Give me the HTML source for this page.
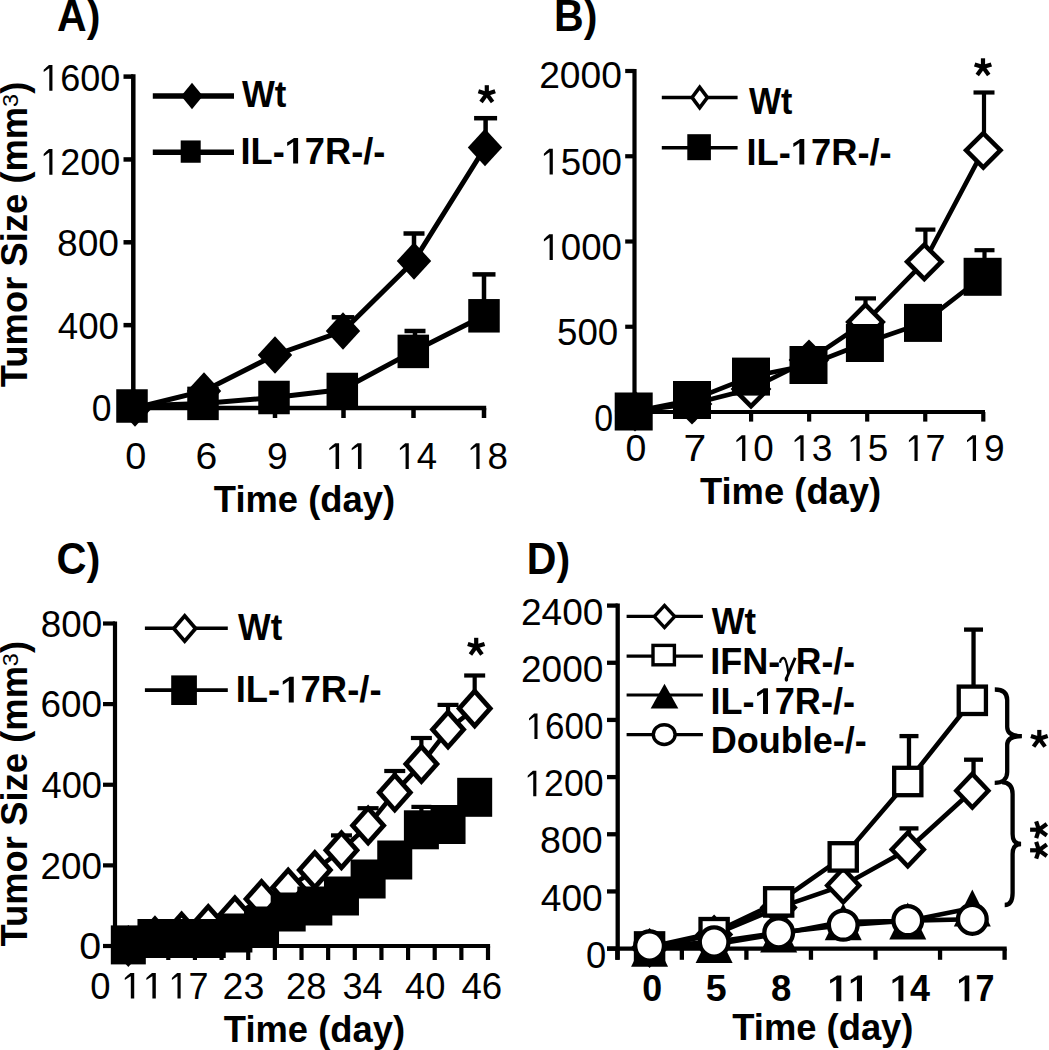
<!DOCTYPE html>
<html><head><meta charset="utf-8"><style>
html,body{margin:0;padding:0;background:#fff;width:1049px;height:1050px;overflow:hidden}
svg{display:block}
text{font-family:"Liberation Sans",sans-serif;fill:#000;stroke:none}
</style></head><body>
<svg width="1049" height="1050" viewBox="0 0 1049 1050" stroke="#000" stroke-linecap="butt">
<rect x="0" y="0" width="1049" height="1050" fill="#fff" stroke="none"/>
<text transform="translate(57.07,30.50) scale(0.9323,1)" font-size="44" font-weight="bold">A)</text>
<line x1="133.30" y1="74.35" x2="133.30" y2="410.25" stroke-width="4.5"/>
<line x1="123.50" y1="408.00" x2="133.30" y2="408.00" stroke-width="4.5"/>
<line x1="123.50" y1="325.15" x2="133.30" y2="325.15" stroke-width="4.5"/>
<line x1="123.50" y1="242.30" x2="133.30" y2="242.30" stroke-width="4.5"/>
<line x1="123.50" y1="159.45" x2="133.30" y2="159.45" stroke-width="4.5"/>
<line x1="123.50" y1="76.60" x2="133.30" y2="76.60" stroke-width="4.5"/>
<g transform="translate(40.24,90.70) scale(0.9604,1)">
<path transform="translate(0.00,0) scale(0.03750)" d="M339,0 L339,-688 L240,-688 C210,-660 150,-610 96,-556 L96,-497 C150,-530 210,-570 251,-598 L251,0 Z" fill="#000" stroke="none"/>
<text x="20.86" y="0" font-size="37.5" font-weight="normal">600</text>
</g>
<g transform="translate(40.24,174.80) scale(0.9604,1)">
<path transform="translate(0.00,0) scale(0.03750)" d="M339,0 L339,-688 L240,-688 C210,-660 150,-610 96,-556 L96,-497 C150,-530 210,-570 251,-598 L251,0 Z" fill="#000" stroke="none"/>
<text x="20.86" y="0" font-size="37.5" font-weight="normal">200</text>
</g>
<text transform="translate(57.03,256.10) scale(0.9907,1)" font-size="37.5" font-weight="normal">800</text>
<text transform="translate(57.78,338.90) scale(0.9783,1)" font-size="37.5" font-weight="normal">400</text>
<text transform="translate(91.68,421.00) scale(0.9488,1)" font-size="37.5" font-weight="normal">0</text>
<line x1="133.30" y1="408.00" x2="486.20" y2="408.00" stroke-width="4.5"/>
<line x1="205.00" y1="408.00" x2="205.00" y2="418.00" stroke-width="4.5"/>
<line x1="275.00" y1="408.00" x2="275.00" y2="418.00" stroke-width="4.5"/>
<line x1="343.50" y1="408.00" x2="343.50" y2="418.00" stroke-width="4.5"/>
<line x1="413.50" y1="408.00" x2="413.50" y2="418.00" stroke-width="4.5"/>
<line x1="484.00" y1="408.00" x2="484.00" y2="418.00" stroke-width="4.5"/>
<line x1="133.30" y1="408.00" x2="133.30" y2="418.00" stroke-width="4.5"/>
<text transform="translate(125.18,469.00) scale(1.0105,1)" font-size="37.5" font-weight="normal">0</text>
<text transform="translate(195.54,469.00) scale(1.0435,1)" font-size="37.5" font-weight="normal">6</text>
<text transform="translate(266.93,469.00) scale(0.9921,1)" font-size="37.5" font-weight="normal">9</text>
<g transform="translate(325.43,469.00) scale(1.0745,1)">
<path transform="translate(0.00,0) scale(0.03750)" d="M339,0 L339,-688 L240,-688 C210,-660 150,-610 96,-556 L96,-497 C150,-530 210,-570 251,-598 L251,0 Z" fill="#000" stroke="none"/>
<path transform="translate(20.86,0) scale(0.03750)" d="M339,0 L339,-688 L240,-688 C210,-660 150,-610 96,-556 L96,-497 C150,-530 210,-570 251,-598 L251,0 Z" fill="#000" stroke="none"/>
</g>
<g transform="translate(396.39,469.00) scale(0.9745,1)">
<path transform="translate(0.00,0) scale(0.03750)" d="M339,0 L339,-688 L240,-688 C210,-660 150,-610 96,-556 L96,-497 C150,-530 210,-570 251,-598 L251,0 Z" fill="#000" stroke="none"/>
<text x="20.86" y="0" font-size="37.5" font-weight="normal">4</text>
</g>
<g transform="translate(467.07,469.00) scale(0.9817,1)">
<path transform="translate(0.00,0) scale(0.03750)" d="M339,0 L339,-688 L240,-688 C210,-660 150,-610 96,-556 L96,-497 C150,-530 210,-570 251,-598 L251,0 Z" fill="#000" stroke="none"/>
<text x="20.86" y="0" font-size="37.5" font-weight="normal">8</text>
</g>
<text transform="translate(213.84,512.00) scale(0.9749,1)" font-size="37.3" font-weight="bold">Time (day)</text>
<g transform="translate(26.70,386.80) rotate(-90)">
<text transform="translate(-0.36,0) scale(0.9975,1)" font-size="36.5" font-weight="bold">Tumor Size (mm</text>
<text transform="translate(279.76,-9.0) scale(1.0638,1)" font-size="22">3</text>
<text x="293.02" y="0" font-size="36.5" font-weight="bold">)</text>
</g>
<line x1="152.80" y1="96.00" x2="234.00" y2="96.00" stroke-width="5.6"/>
<polygon points="181.20,96.00 192.00,82.80 202.80,96.00 192.00,109.20" fill="#000" stroke="none"/>
<line x1="152.80" y1="152.20" x2="234.00" y2="152.20" stroke-width="5.6"/>
<rect x="180.70" y="140.45" width="20.00" height="22.30" fill="#000" stroke="none"/>
<text transform="translate(242.00,107.00) scale(0.9325,1)" font-size="37.3" font-weight="bold">Wt</text>
<g transform="translate(240.45,163.60) scale(0.9712,1)">
<text x="0.00" y="0" font-size="37.3" font-weight="bold">IL-</text>
<path transform="translate(45.57,0) scale(0.03730)" d="M370,0 L370,-688 L255,-688 C215,-660 140,-610 68,-570 L68,-475 C130,-505 190,-540 233,-578 L233,0 Z" fill="#000" stroke="none"/>
<text x="66.31" y="0" font-size="37.3" font-weight="bold">7R-/-</text>
</g>
<line x1="343.00" y1="331.00" x2="343.00" y2="317.30" stroke-width="4.5"/>
<line x1="331.75" y1="317.30" x2="354.25" y2="317.30" stroke-width="4.5"/>
<line x1="414.00" y1="261.00" x2="414.00" y2="233.50" stroke-width="4.5"/>
<line x1="403.50" y1="233.50" x2="424.50" y2="233.50" stroke-width="4.5"/>
<line x1="485.60" y1="147.50" x2="485.60" y2="118.20" stroke-width="4.5"/>
<line x1="474.10" y1="118.20" x2="497.10" y2="118.20" stroke-width="4.5"/>
<line x1="415.00" y1="351.40" x2="415.00" y2="331.00" stroke-width="4.5"/>
<line x1="404.50" y1="331.00" x2="425.50" y2="331.00" stroke-width="4.5"/>
<line x1="484.00" y1="315.80" x2="484.00" y2="274.40" stroke-width="4.5"/>
<line x1="472.50" y1="274.40" x2="495.50" y2="274.40" stroke-width="4.5"/>
<polyline points="135.00,408.00 204.00,391.00 275.00,355.00 343.00,331.00 414.00,261.00 485.00,147.50" fill="none" stroke-width="5.0" stroke-linejoin="miter"/>
<polyline points="132.00,406.00 203.00,403.40 274.00,397.50 342.30,389.50 413.30,351.40 484.00,315.80" fill="none" stroke-width="5.0" stroke-linejoin="miter"/>
<polygon points="117.80,408.00 135.00,389.30 152.20,408.00 135.00,426.70" fill="#000" stroke="none"/>
<polygon points="186.80,391.00 204.00,372.30 221.20,391.00 204.00,409.70" fill="#000" stroke="none"/>
<polygon points="257.80,355.00 275.00,336.30 292.20,355.00 275.00,373.70" fill="#000" stroke="none"/>
<polygon points="325.80,331.00 343.00,312.30 360.20,331.00 343.00,349.70" fill="#000" stroke="none"/>
<polygon points="396.80,261.00 414.00,242.30 431.20,261.00 414.00,279.70" fill="#000" stroke="none"/>
<polygon points="467.80,147.50 485.00,128.80 502.20,147.50 485.00,166.20" fill="#000" stroke="none"/>
<rect x="116.25" y="389.25" width="31.50" height="33.50" fill="#000" stroke="none"/>
<rect x="187.25" y="386.65" width="31.50" height="33.50" fill="#000" stroke="none"/>
<rect x="258.25" y="380.75" width="31.50" height="33.50" fill="#000" stroke="none"/>
<rect x="326.55" y="372.75" width="31.50" height="33.50" fill="#000" stroke="none"/>
<rect x="397.55" y="334.65" width="31.50" height="33.50" fill="#000" stroke="none"/>
<rect x="468.25" y="299.05" width="31.50" height="33.50" fill="#000" stroke="none"/>
<line x1="486.80" y1="94.00" x2="486.80" y2="85.20" stroke-width="4.2"/>
<line x1="486.80" y1="94.00" x2="495.17" y2="91.28" stroke-width="4.2"/>
<line x1="486.80" y1="94.00" x2="478.43" y2="91.28" stroke-width="4.2"/>
<line x1="486.80" y1="94.00" x2="492.56" y2="101.93" stroke-width="4.2"/>
<line x1="486.80" y1="94.00" x2="481.04" y2="101.93" stroke-width="4.2"/>
<text transform="translate(554.03,30.50) scale(0.9333,1)" font-size="44" font-weight="bold">B)</text>
<line x1="634.50" y1="68.90" x2="634.50" y2="414.10" stroke-width="4.2"/>
<line x1="625.20" y1="412.00" x2="634.50" y2="412.00" stroke-width="4.2"/>
<line x1="625.20" y1="326.75" x2="634.50" y2="326.75" stroke-width="4.2"/>
<line x1="625.20" y1="241.50" x2="634.50" y2="241.50" stroke-width="4.2"/>
<line x1="625.20" y1="156.25" x2="634.50" y2="156.25" stroke-width="4.2"/>
<line x1="625.20" y1="71.00" x2="634.50" y2="71.00" stroke-width="4.2"/>
<text transform="translate(539.14,88.40) scale(0.9917,1)" font-size="37.5" font-weight="normal">2000</text>
<g transform="translate(540.38,174.60) scale(0.9783,1)">
<path transform="translate(0.00,0) scale(0.03750)" d="M339,0 L339,-688 L240,-688 C210,-660 150,-610 96,-556 L96,-497 C150,-530 210,-570 251,-598 L251,0 Z" fill="#000" stroke="none"/>
<text x="20.86" y="0" font-size="37.5" font-weight="normal">500</text>
</g>
<g transform="translate(540.38,260.10) scale(0.9783,1)">
<path transform="translate(0.00,0) scale(0.03750)" d="M339,0 L339,-688 L240,-688 C210,-660 150,-610 96,-556 L96,-497 C150,-530 210,-570 251,-598 L251,0 Z" fill="#000" stroke="none"/>
<text x="20.86" y="0" font-size="37.5" font-weight="normal">000</text>
</g>
<text transform="translate(557.03,344.60) scale(0.9792,1)" font-size="37.5" font-weight="normal">500</text>
<text transform="translate(594.24,430.50) scale(0.9039,1)" font-size="37.5" font-weight="normal">0</text>
<line x1="634.50" y1="412.00" x2="985.00" y2="412.00" stroke-width="4.2"/>
<line x1="635.00" y1="412.00" x2="635.00" y2="421.60" stroke-width="4.2"/>
<line x1="693.05" y1="412.00" x2="693.05" y2="421.60" stroke-width="4.2"/>
<line x1="751.10" y1="412.00" x2="751.10" y2="421.60" stroke-width="4.2"/>
<line x1="809.15" y1="412.00" x2="809.15" y2="421.60" stroke-width="4.2"/>
<line x1="867.20" y1="412.00" x2="867.20" y2="421.60" stroke-width="4.2"/>
<line x1="925.25" y1="412.00" x2="925.25" y2="421.60" stroke-width="4.2"/>
<line x1="983.30" y1="412.00" x2="983.30" y2="421.60" stroke-width="4.2"/>
<text transform="translate(625.40,461.00) scale(0.9993,1)" font-size="37.5" font-weight="normal">0</text>
<text transform="translate(683.56,461.00) scale(1.0901,1)" font-size="37.5" font-weight="normal">7</text>
<g transform="translate(732.87,461.00) scale(0.9817,1)">
<path transform="translate(0.00,0) scale(0.03750)" d="M339,0 L339,-688 L240,-688 C210,-660 150,-610 96,-556 L96,-497 C150,-530 210,-570 251,-598 L251,0 Z" fill="#000" stroke="none"/>
<text x="20.86" y="0" font-size="37.5" font-weight="normal">0</text>
</g>
<g transform="translate(791.04,461.00) scale(0.9895,1)">
<path transform="translate(0.00,0) scale(0.03750)" d="M339,0 L339,-688 L240,-688 C210,-660 150,-610 96,-556 L96,-497 C150,-530 210,-570 251,-598 L251,0 Z" fill="#000" stroke="none"/>
<text x="20.86" y="0" font-size="37.5" font-weight="normal">3</text>
</g>
<g transform="translate(847.17,461.00) scale(0.9817,1)">
<path transform="translate(0.00,0) scale(0.03750)" d="M339,0 L339,-688 L240,-688 C210,-660 150,-610 96,-556 L96,-497 C150,-530 210,-570 251,-598 L251,0 Z" fill="#000" stroke="none"/>
<text x="20.86" y="0" font-size="37.5" font-weight="normal">5</text>
</g>
<g transform="translate(905.45,461.00) scale(0.9587,1)">
<path transform="translate(0.00,0) scale(0.03750)" d="M339,0 L339,-688 L240,-688 C210,-660 150,-610 96,-556 L96,-497 C150,-530 210,-570 251,-598 L251,0 Z" fill="#000" stroke="none"/>
<text x="20.86" y="0" font-size="37.5" font-weight="normal">7</text>
</g>
<g transform="translate(963.44,461.00) scale(0.9895,1)">
<path transform="translate(0.00,0) scale(0.03750)" d="M339,0 L339,-688 L240,-688 C210,-660 150,-610 96,-556 L96,-497 C150,-530 210,-570 251,-598 L251,0 Z" fill="#000" stroke="none"/>
<text x="20.86" y="0" font-size="37.5" font-weight="normal">9</text>
</g>
<text transform="translate(699.94,504.40) scale(0.9755,1)" font-size="37.3" font-weight="bold">Time (day)</text>
<line x1="661.80" y1="97.50" x2="737.60" y2="97.50" stroke-width="3.6"/>
<polygon points="689.80,97.50 699.70,84.20 709.60,97.50 699.70,110.80" fill="#000" stroke="none"/>
<polygon points="694.29,97.50 699.70,90.23 705.11,97.50 699.70,104.77" fill="#fff" stroke="none"/>
<line x1="661.80" y1="147.80" x2="737.60" y2="147.80" stroke-width="3.6"/>
<rect x="687.30" y="134.20" width="23.60" height="26.00" fill="#000" stroke="none"/>
<text transform="translate(748.90,113.90) scale(0.9113,1)" font-size="37.3" font-weight="bold">Wt</text>
<g transform="translate(746.54,164.60) scale(0.9726,1)">
<text x="0.00" y="0" font-size="37.3" font-weight="bold">IL-</text>
<path transform="translate(45.57,0) scale(0.03730)" d="M370,0 L370,-688 L255,-688 C215,-660 140,-610 68,-570 L68,-475 C130,-505 190,-540 233,-578 L233,0 Z" fill="#000" stroke="none"/>
<text x="66.31" y="0" font-size="37.3" font-weight="bold">7R-/-</text>
</g>
<line x1="865.50" y1="322.00" x2="865.50" y2="298.40" stroke-width="4.2"/>
<line x1="855.00" y1="298.40" x2="876.00" y2="298.40" stroke-width="4.2"/>
<line x1="925.40" y1="261.80" x2="925.40" y2="229.60" stroke-width="4.2"/>
<line x1="915.40" y1="229.60" x2="935.40" y2="229.60" stroke-width="4.2"/>
<line x1="984.00" y1="150.30" x2="984.00" y2="92.50" stroke-width="4.2"/>
<line x1="973.50" y1="92.50" x2="994.50" y2="92.50" stroke-width="4.2"/>
<line x1="984.50" y1="276.80" x2="984.50" y2="250.20" stroke-width="4.2"/>
<line x1="974.50" y1="250.20" x2="994.50" y2="250.20" stroke-width="4.2"/>
<polyline points="635.00,411.00 692.00,404.00 751.00,389.00 809.00,360.00 865.50,322.00 924.30,261.80 983.30,150.30" fill="none" stroke-width="4.6" stroke-linejoin="miter"/>
<polygon points="614.60,411.00 635.00,390.60 655.40,411.00 635.00,431.40" fill="#000" stroke="none"/>
<polygon points="621.11,411.00 635.00,397.11 648.89,411.00 635.00,424.89" fill="#fff" stroke="none"/>
<polygon points="671.60,404.00 692.00,383.60 712.40,404.00 692.00,424.40" fill="#000" stroke="none"/>
<polygon points="678.11,404.00 692.00,390.11 705.89,404.00 692.00,417.89" fill="#fff" stroke="none"/>
<polygon points="730.60,389.00 751.00,368.60 771.40,389.00 751.00,409.40" fill="#000" stroke="none"/>
<polygon points="737.11,389.00 751.00,375.11 764.89,389.00 751.00,402.89" fill="#fff" stroke="none"/>
<polygon points="788.60,360.00 809.00,339.60 829.40,360.00 809.00,380.40" fill="#000" stroke="none"/>
<polygon points="795.11,360.00 809.00,346.11 822.89,360.00 809.00,373.89" fill="#fff" stroke="none"/>
<polygon points="845.10,322.00 865.50,301.60 885.90,322.00 865.50,342.40" fill="#000" stroke="none"/>
<polygon points="851.61,322.00 865.50,308.11 879.39,322.00 865.50,335.89" fill="#fff" stroke="none"/>
<polygon points="903.90,261.80 924.30,241.40 944.70,261.80 924.30,282.20" fill="#000" stroke="none"/>
<polygon points="910.41,261.80 924.30,247.91 938.19,261.80 924.30,275.69" fill="#fff" stroke="none"/>
<polygon points="962.90,150.30 983.30,129.90 1003.70,150.30 983.30,170.70" fill="#000" stroke="none"/>
<polygon points="969.41,150.30 983.30,136.41 997.19,150.30 983.30,164.19" fill="#fff" stroke="none"/>
<polyline points="633.70,411.50 692.00,400.00 751.00,376.60 808.50,365.00 864.90,343.00 923.00,322.90 982.60,276.80" fill="none" stroke-width="4.6" stroke-linejoin="miter"/>
<rect x="614.70" y="392.50" width="38.00" height="38.00" fill="#000" stroke="none"/>
<rect x="673.00" y="381.00" width="38.00" height="38.00" fill="#000" stroke="none"/>
<rect x="732.00" y="357.60" width="38.00" height="38.00" fill="#000" stroke="none"/>
<rect x="789.50" y="346.00" width="38.00" height="38.00" fill="#000" stroke="none"/>
<rect x="845.90" y="324.00" width="38.00" height="38.00" fill="#000" stroke="none"/>
<rect x="904.00" y="303.90" width="38.00" height="38.00" fill="#000" stroke="none"/>
<rect x="963.60" y="257.80" width="38.00" height="38.00" fill="#000" stroke="none"/>
<line x1="983.00" y1="67.10" x2="983.00" y2="58.30" stroke-width="4.2"/>
<line x1="983.00" y1="67.10" x2="991.37" y2="64.38" stroke-width="4.2"/>
<line x1="983.00" y1="67.10" x2="974.63" y2="64.38" stroke-width="4.2"/>
<line x1="983.00" y1="67.10" x2="988.76" y2="75.03" stroke-width="4.2"/>
<line x1="983.00" y1="67.10" x2="977.24" y2="75.03" stroke-width="4.2"/>
<text transform="translate(56.44,573.50) scale(0.9444,1)" font-size="44" font-weight="bold">C)</text>
<line x1="115.00" y1="621.40" x2="115.00" y2="948.10" stroke-width="4.2"/>
<line x1="103.00" y1="946.00" x2="115.00" y2="946.00" stroke-width="4.2"/>
<line x1="103.00" y1="865.38" x2="115.00" y2="865.38" stroke-width="4.2"/>
<line x1="103.00" y1="784.75" x2="115.00" y2="784.75" stroke-width="4.2"/>
<line x1="103.00" y1="704.12" x2="115.00" y2="704.12" stroke-width="4.2"/>
<line x1="103.00" y1="623.50" x2="115.00" y2="623.50" stroke-width="4.2"/>
<text transform="translate(40.75,636.70) scale(0.9938,1)" font-size="37" font-weight="normal">800</text>
<text transform="translate(40.56,717.30) scale(0.9970,1)" font-size="37" font-weight="normal">600</text>
<text transform="translate(41.49,798.00) scale(0.9814,1)" font-size="37" font-weight="normal">400</text>
<text transform="translate(40.56,878.60) scale(0.9970,1)" font-size="37" font-weight="normal">200</text>
<text transform="translate(79.23,959.00) scale(1.0640,1)" font-size="37" font-weight="normal">0</text>
<line x1="115.00" y1="946.00" x2="490.10" y2="946.00" stroke-width="4.2"/>
<line x1="115.00" y1="946.00" x2="115.00" y2="960.00" stroke-width="4.2"/>
<line x1="141.64" y1="946.00" x2="141.64" y2="960.00" stroke-width="4.2"/>
<line x1="168.29" y1="946.00" x2="168.29" y2="960.00" stroke-width="4.2"/>
<line x1="194.93" y1="946.00" x2="194.93" y2="960.00" stroke-width="4.2"/>
<line x1="221.57" y1="946.00" x2="221.57" y2="960.00" stroke-width="4.2"/>
<line x1="248.21" y1="946.00" x2="248.21" y2="960.00" stroke-width="4.2"/>
<line x1="274.86" y1="946.00" x2="274.86" y2="960.00" stroke-width="4.2"/>
<line x1="301.50" y1="946.00" x2="301.50" y2="960.00" stroke-width="4.2"/>
<line x1="328.14" y1="946.00" x2="328.14" y2="960.00" stroke-width="4.2"/>
<line x1="354.79" y1="946.00" x2="354.79" y2="960.00" stroke-width="4.2"/>
<line x1="381.43" y1="946.00" x2="381.43" y2="960.00" stroke-width="4.2"/>
<line x1="408.07" y1="946.00" x2="408.07" y2="960.00" stroke-width="4.2"/>
<line x1="434.71" y1="946.00" x2="434.71" y2="960.00" stroke-width="4.2"/>
<line x1="461.36" y1="946.00" x2="461.36" y2="960.00" stroke-width="4.2"/>
<line x1="488.00" y1="946.00" x2="488.00" y2="960.00" stroke-width="4.2"/>
<text transform="translate(90.24,998.50) scale(0.9844,1)" font-size="37" font-weight="normal">0</text>
<g transform="translate(121.08,998.50) scale(1.0484,1)">
<path transform="translate(0.00,0) scale(0.03700)" d="M339,0 L339,-688 L240,-688 C210,-660 150,-610 96,-556 L96,-497 C150,-530 210,-570 251,-598 L251,0 Z" fill="#000" stroke="none"/>
<path transform="translate(20.58,0) scale(0.03700)" d="M339,0 L339,-688 L240,-688 C210,-660 150,-610 96,-556 L96,-497 C150,-530 210,-570 251,-598 L251,0 Z" fill="#000" stroke="none"/>
</g>
<g transform="translate(168.45,998.50) scale(0.9717,1)">
<path transform="translate(0.00,0) scale(0.03700)" d="M339,0 L339,-688 L240,-688 C210,-660 150,-610 96,-556 L96,-497 C150,-530 210,-570 251,-598 L251,0 Z" fill="#000" stroke="none"/>
<text x="20.58" y="0" font-size="37" font-weight="normal">7</text>
</g>
<text transform="translate(222.52,998.50) scale(1.0145,1)" font-size="37" font-weight="normal">23</text>
<text transform="translate(286.08,998.50) scale(0.9830,1)" font-size="37" font-weight="normal">28</text>
<text transform="translate(342.56,998.50) scale(0.9745,1)" font-size="37" font-weight="normal">34</text>
<text transform="translate(405.09,998.50) scale(0.9828,1)" font-size="37" font-weight="normal">40</text>
<text transform="translate(461.48,998.50) scale(0.9901,1)" font-size="37" font-weight="normal">46</text>
<text transform="translate(223.84,1042.00) scale(0.9749,1)" font-size="37.3" font-weight="bold">Time (day)</text>
<g transform="translate(26.70,946.20) rotate(-90)">
<text transform="translate(-0.36,0) scale(0.9982,1)" font-size="36.5" font-weight="bold">Tumor Size (mm</text>
<text transform="translate(280.06,-9.0) scale(1.0638,1)" font-size="22">3</text>
<text x="293.22" y="0" font-size="36.5" font-weight="bold">)</text>
</g>
<line x1="144.90" y1="628.30" x2="227.80" y2="628.30" stroke-width="3.6"/>
<polygon points="171.30,628.50 184.70,613.00 198.10,628.50 184.70,644.00" fill="#000" stroke="none"/>
<polygon points="176.32,628.50 184.70,618.81 193.08,628.50 184.70,638.19" fill="#fff" stroke="none"/>
<line x1="144.90" y1="690.10" x2="227.80" y2="690.10" stroke-width="3.6"/>
<rect x="171.20" y="675.40" width="25.70" height="29.60" fill="#000" stroke="none"/>
<text transform="translate(238.10,639.90) scale(0.9283,1)" font-size="37.3" font-weight="bold">Wt</text>
<g transform="translate(235.73,702.40) scale(0.9774,1)">
<text x="0.00" y="0" font-size="37.3" font-weight="bold">IL-</text>
<path transform="translate(45.57,0) scale(0.03730)" d="M370,0 L370,-688 L255,-688 C215,-660 140,-610 68,-570 L68,-475 C130,-505 190,-540 233,-578 L233,0 Z" fill="#000" stroke="none"/>
<text x="66.31" y="0" font-size="37.3" font-weight="bold">7R-/-</text>
</g>
<line x1="341.46" y1="850.30" x2="341.46" y2="835.40" stroke-width="4.2"/>
<line x1="330.96" y1="835.40" x2="351.96" y2="835.40" stroke-width="4.2"/>
<line x1="368.11" y1="825.50" x2="368.11" y2="808.20" stroke-width="4.2"/>
<line x1="357.61" y1="808.20" x2="378.61" y2="808.20" stroke-width="4.2"/>
<line x1="394.75" y1="792.60" x2="394.75" y2="771.00" stroke-width="4.2"/>
<line x1="384.25" y1="771.00" x2="405.25" y2="771.00" stroke-width="4.2"/>
<line x1="421.39" y1="764.00" x2="421.39" y2="738.00" stroke-width="4.2"/>
<line x1="410.89" y1="738.00" x2="431.89" y2="738.00" stroke-width="4.2"/>
<line x1="448.04" y1="729.60" x2="448.04" y2="704.90" stroke-width="4.2"/>
<line x1="437.54" y1="704.90" x2="458.54" y2="704.90" stroke-width="4.2"/>
<line x1="474.68" y1="708.50" x2="474.68" y2="675.50" stroke-width="4.2"/>
<line x1="464.18" y1="675.50" x2="485.18" y2="675.50" stroke-width="4.2"/>
<line x1="421.39" y1="829.80" x2="421.39" y2="806.90" stroke-width="4.2"/>
<line x1="411.39" y1="806.90" x2="431.39" y2="806.90" stroke-width="4.2"/>
<polyline points="128.32,946.00 154.96,936.30 181.61,931.50 208.25,924.00 234.89,915.30 261.54,899.00 288.18,887.60 314.82,870.00 341.46,850.30 368.11,825.50 394.75,792.60 421.39,764.00 448.04,729.60 474.68,708.50" fill="none" stroke-width="4.6" stroke-linejoin="miter"/>
<polygon points="109.62,946.00 128.32,925.00 147.02,946.00 128.32,967.00" fill="#000" stroke="none"/>
<polygon points="116.05,946.00 128.32,932.22 140.59,946.00 128.32,959.78" fill="#fff" stroke="none"/>
<polygon points="136.26,936.30 154.96,915.30 173.66,936.30 154.96,957.30" fill="#000" stroke="none"/>
<polygon points="142.69,936.30 154.96,922.52 167.24,936.30 154.96,950.08" fill="#fff" stroke="none"/>
<polygon points="162.91,931.50 181.61,910.50 200.31,931.50 181.61,952.50" fill="#000" stroke="none"/>
<polygon points="169.33,931.50 181.61,917.72 193.88,931.50 181.61,945.28" fill="#fff" stroke="none"/>
<polygon points="189.55,924.00 208.25,903.00 226.95,924.00 208.25,945.00" fill="#000" stroke="none"/>
<polygon points="195.98,924.00 208.25,910.22 220.52,924.00 208.25,937.78" fill="#fff" stroke="none"/>
<polygon points="216.19,915.30 234.89,894.30 253.59,915.30 234.89,936.30" fill="#000" stroke="none"/>
<polygon points="222.62,915.30 234.89,901.52 247.17,915.30 234.89,929.08" fill="#fff" stroke="none"/>
<polygon points="242.84,899.00 261.54,878.00 280.24,899.00 261.54,920.00" fill="#000" stroke="none"/>
<polygon points="249.26,899.00 261.54,885.22 273.81,899.00 261.54,912.78" fill="#fff" stroke="none"/>
<polygon points="269.48,887.60 288.18,866.60 306.88,887.60 288.18,908.60" fill="#000" stroke="none"/>
<polygon points="275.91,887.60 288.18,873.82 300.45,887.60 288.18,901.38" fill="#fff" stroke="none"/>
<polygon points="296.12,870.00 314.82,849.00 333.52,870.00 314.82,891.00" fill="#000" stroke="none"/>
<polygon points="302.55,870.00 314.82,856.22 327.09,870.00 314.82,883.78" fill="#fff" stroke="none"/>
<polygon points="322.76,850.30 341.46,829.30 360.16,850.30 341.46,871.30" fill="#000" stroke="none"/>
<polygon points="329.19,850.30 341.46,836.52 353.74,850.30 341.46,864.08" fill="#fff" stroke="none"/>
<polygon points="349.41,825.50 368.11,804.50 386.81,825.50 368.11,846.50" fill="#000" stroke="none"/>
<polygon points="355.83,825.50 368.11,811.72 380.38,825.50 368.11,839.28" fill="#fff" stroke="none"/>
<polygon points="376.05,792.60 394.75,771.60 413.45,792.60 394.75,813.60" fill="#000" stroke="none"/>
<polygon points="382.48,792.60 394.75,778.82 407.02,792.60 394.75,806.38" fill="#fff" stroke="none"/>
<polygon points="402.69,764.00 421.39,743.00 440.09,764.00 421.39,785.00" fill="#000" stroke="none"/>
<polygon points="409.12,764.00 421.39,750.22 433.67,764.00 421.39,777.78" fill="#fff" stroke="none"/>
<polygon points="429.34,729.60 448.04,708.60 466.74,729.60 448.04,750.60" fill="#000" stroke="none"/>
<polygon points="435.76,729.60 448.04,715.82 460.31,729.60 448.04,743.38" fill="#fff" stroke="none"/>
<polygon points="455.98,708.50 474.68,687.50 493.38,708.50 474.68,729.50" fill="#000" stroke="none"/>
<polygon points="462.41,708.50 474.68,694.72 486.95,708.50 474.68,722.28" fill="#fff" stroke="none"/>
<polyline points="128.32,944.90 154.96,938.50 181.61,938.50 208.25,938.50 234.89,933.00 261.54,926.00 288.18,912.00 314.82,906.00 341.46,896.00 368.11,879.00 394.75,860.00 421.39,829.80 448.04,824.50 474.68,797.30" fill="none" stroke-width="4.6" stroke-linejoin="miter"/>
<rect x="110.82" y="925.40" width="35.00" height="39.00" fill="#000" stroke="none"/>
<rect x="137.46" y="919.00" width="35.00" height="39.00" fill="#000" stroke="none"/>
<rect x="164.11" y="919.00" width="35.00" height="39.00" fill="#000" stroke="none"/>
<rect x="190.75" y="919.00" width="35.00" height="39.00" fill="#000" stroke="none"/>
<rect x="217.39" y="913.50" width="35.00" height="39.00" fill="#000" stroke="none"/>
<rect x="244.04" y="906.50" width="35.00" height="39.00" fill="#000" stroke="none"/>
<rect x="270.68" y="892.50" width="35.00" height="39.00" fill="#000" stroke="none"/>
<rect x="297.32" y="886.50" width="35.00" height="39.00" fill="#000" stroke="none"/>
<rect x="323.96" y="876.50" width="35.00" height="39.00" fill="#000" stroke="none"/>
<rect x="350.61" y="859.50" width="35.00" height="39.00" fill="#000" stroke="none"/>
<rect x="377.25" y="840.50" width="35.00" height="39.00" fill="#000" stroke="none"/>
<rect x="403.89" y="810.30" width="35.00" height="39.00" fill="#000" stroke="none"/>
<rect x="430.54" y="805.00" width="35.00" height="39.00" fill="#000" stroke="none"/>
<rect x="457.18" y="777.80" width="35.00" height="39.00" fill="#000" stroke="none"/>
<line x1="476.20" y1="646.60" x2="476.20" y2="637.80" stroke-width="4.2"/>
<line x1="476.20" y1="646.60" x2="484.57" y2="643.88" stroke-width="4.2"/>
<line x1="476.20" y1="646.60" x2="467.83" y2="643.88" stroke-width="4.2"/>
<line x1="476.20" y1="646.60" x2="481.96" y2="654.53" stroke-width="4.2"/>
<line x1="476.20" y1="646.60" x2="470.44" y2="654.53" stroke-width="4.2"/>
<text transform="translate(526.83,573.80) scale(0.9333,1)" font-size="44" font-weight="bold">D)</text>
<line x1="617.70" y1="603.50" x2="617.70" y2="959.80" stroke-width="4.3"/>
<line x1="607.00" y1="948.60" x2="617.70" y2="948.60" stroke-width="4.3"/>
<line x1="607.00" y1="891.43" x2="617.70" y2="891.43" stroke-width="4.3"/>
<line x1="607.00" y1="834.27" x2="617.70" y2="834.27" stroke-width="4.3"/>
<line x1="607.00" y1="777.10" x2="617.70" y2="777.10" stroke-width="4.3"/>
<line x1="607.00" y1="719.93" x2="617.70" y2="719.93" stroke-width="4.3"/>
<line x1="607.00" y1="662.77" x2="617.70" y2="662.77" stroke-width="4.3"/>
<line x1="607.00" y1="605.60" x2="617.70" y2="605.60" stroke-width="4.3"/>
<text transform="translate(520.95,624.70) scale(1.0026,1)" font-size="37" font-weight="normal">2400</text>
<text transform="translate(520.95,681.90) scale(1.0026,1)" font-size="37" font-weight="normal">2000</text>
<g transform="translate(525.64,739.00) scale(0.9462,1)">
<path transform="translate(0.00,0) scale(0.03700)" d="M339,0 L339,-688 L240,-688 C210,-660 150,-610 96,-556 L96,-497 C150,-530 210,-570 251,-598 L251,0 Z" fill="#000" stroke="none"/>
<text x="20.58" y="0" font-size="37" font-weight="normal">600</text>
</g>
<g transform="translate(524.28,796.20) scale(0.9630,1)">
<path transform="translate(0.00,0) scale(0.03700)" d="M339,0 L339,-688 L240,-688 C210,-660 150,-610 96,-556 L96,-497 C150,-530 210,-570 251,-598 L251,0 Z" fill="#000" stroke="none"/>
<text x="20.58" y="0" font-size="37" font-weight="normal">200</text>
</g>
<text transform="translate(540.01,853.40) scale(1.0161,1)" font-size="37" font-weight="normal">800</text>
<text transform="translate(540.77,910.50) scale(1.0034,1)" font-size="37" font-weight="normal">400</text>
<text transform="translate(586.04,967.70) scale(0.9844,1)" font-size="37" font-weight="normal">0</text>
<line x1="607.00" y1="948.60" x2="1006.70" y2="948.60" stroke-width="4.3"/>
<line x1="617.30" y1="948.60" x2="617.30" y2="959.80" stroke-width="4.3"/>
<line x1="681.85" y1="948.60" x2="681.85" y2="959.80" stroke-width="4.3"/>
<line x1="746.40" y1="948.60" x2="746.40" y2="959.80" stroke-width="4.3"/>
<line x1="810.95" y1="948.60" x2="810.95" y2="959.80" stroke-width="4.3"/>
<line x1="875.50" y1="948.60" x2="875.50" y2="959.80" stroke-width="4.3"/>
<line x1="940.05" y1="948.60" x2="940.05" y2="959.80" stroke-width="4.3"/>
<line x1="1004.60" y1="948.60" x2="1004.60" y2="959.80" stroke-width="4.3"/>
<text transform="translate(642.17,1001.20) scale(0.9544,1)" font-size="37.5" font-weight="bold">0</text>
<text transform="translate(705.87,1001.20) scale(1.0027,1)" font-size="37.5" font-weight="bold">5</text>
<text transform="translate(771.10,1001.20) scale(0.9751,1)" font-size="37.5" font-weight="bold">8</text>
<g transform="translate(827.57,1001.20) scale(0.9913,1)">
<path transform="translate(0.00,0) scale(0.03750)" d="M370,0 L370,-688 L255,-688 C215,-660 140,-610 68,-570 L68,-475 C130,-505 190,-540 233,-578 L233,0 Z" fill="#000" stroke="none"/>
<path transform="translate(20.86,0) scale(0.03750)" d="M370,0 L370,-688 L255,-688 C215,-660 140,-610 68,-570 L68,-475 C130,-505 190,-540 233,-578 L233,0 Z" fill="#000" stroke="none"/>
</g>
<g transform="translate(890.06,1001.20) scale(0.9581,1)">
<path transform="translate(0.00,0) scale(0.03750)" d="M370,0 L370,-688 L255,-688 C215,-660 140,-610 68,-570 L68,-475 C130,-505 190,-540 233,-578 L233,0 Z" fill="#000" stroke="none"/>
<text x="20.86" y="0" font-size="37.5" font-weight="bold">4</text>
</g>
<g transform="translate(956.68,1001.20) scale(0.9083,1)">
<path transform="translate(0.00,0) scale(0.03750)" d="M370,0 L370,-688 L255,-688 C215,-660 140,-610 68,-570 L68,-475 C130,-505 190,-540 233,-578 L233,0 Z" fill="#000" stroke="none"/>
<text x="20.86" y="0" font-size="37.5" font-weight="bold">7</text>
</g>
<text transform="translate(732.24,1039.70) scale(0.9755,1)" font-size="37.3" font-weight="bold">Time (day)</text>
<line x1="626.60" y1="616.40" x2="702.90" y2="616.40" stroke-width="3.2"/>
<line x1="626.60" y1="656.10" x2="702.90" y2="656.10" stroke-width="3.2"/>
<line x1="626.60" y1="695.00" x2="702.90" y2="695.00" stroke-width="3.2"/>
<line x1="626.60" y1="734.60" x2="702.90" y2="734.60" stroke-width="3.2"/>
<polygon points="652.00,616.40 664.50,602.90 677.00,616.40 664.50,629.90" fill="#000" stroke="none"/>
<polygon points="656.63,616.40 664.50,607.90 672.37,616.40 664.50,624.90" fill="#fff" stroke="none"/>
<rect x="653.00" y="645.40" width="21.40" height="19.40" fill="#fff" stroke-width="3.4"/>
<polygon points="650.65,708.60 664.50,683.80 678.35,708.60" fill="#000" stroke="none"/>
<ellipse cx="664.20" cy="734.60" rx="10.90" ry="9.90" fill="#fff" stroke-width="3.4"/>
<text transform="translate(711.80,633.60) scale(0.9304,1)" font-size="37.3" font-weight="bold">Wt</text>
<text transform="translate(710.25,673.80) scale(0.9675,1)" font-size="37.3" font-weight="bold">IFN-</text>
<text transform="translate(795.79,673.80) scale(0.9525,1)" font-size="37.3" font-weight="bold">R-/-</text>
<path d="M779.9,662.8 C780.6,659.1 782.4,657.7 784,658.1 C786.2,658.9 787.2,665.5 788.4,673.0" fill="none" stroke-width="2.3"/>
<path d="M795.2,657.7 L786.6,678.0" fill="none" stroke-width="2.9"/>
<ellipse cx="786.4" cy="679.1" rx="1.8" ry="2.6" fill="#000" stroke="none"/>
<g transform="translate(710.45,714.00) scale(0.9691,1)">
<text x="0.00" y="0" font-size="37.3" font-weight="bold">IL-</text>
<path transform="translate(45.57,0) scale(0.03730)" d="M370,0 L370,-688 L255,-688 C215,-660 140,-610 68,-570 L68,-475 C130,-505 190,-540 233,-578 L233,0 Z" fill="#000" stroke="none"/>
<text x="66.31" y="0" font-size="37.3" font-weight="bold">7R-/-</text>
</g>
<text transform="translate(710.66,752.80) scale(0.9665,1)" font-size="37.3" font-weight="bold">Double-/-</text>
<line x1="908.98" y1="849.50" x2="908.98" y2="828.40" stroke-width="4.3"/>
<line x1="899.48" y1="828.40" x2="918.48" y2="828.40" stroke-width="4.3"/>
<line x1="973.53" y1="790.70" x2="973.53" y2="759.70" stroke-width="4.3"/>
<line x1="964.03" y1="759.70" x2="983.03" y2="759.70" stroke-width="4.3"/>
<polyline points="649.57,948.00 714.12,934.50 778.67,907.60 843.23,885.40 907.77,849.50 972.33,790.70" fill="none" stroke-width="4.6" stroke-linejoin="miter"/>
<polygon points="630.47,948.00 649.57,927.90 668.67,948.00 649.57,968.10" fill="#000" stroke="none"/>
<polygon points="636.68,948.00 649.57,934.43 662.47,948.00 649.57,961.57" fill="#fff" stroke="none"/>
<polygon points="695.02,934.50 714.12,914.40 733.23,934.50 714.12,954.60" fill="#000" stroke="none"/>
<polygon points="701.23,934.50 714.12,920.93 727.02,934.50 714.12,948.07" fill="#fff" stroke="none"/>
<polygon points="759.57,907.60 778.67,887.50 797.77,907.60 778.67,927.70" fill="#000" stroke="none"/>
<polygon points="765.78,907.60 778.67,894.03 791.57,907.60 778.67,921.17" fill="#fff" stroke="none"/>
<polygon points="824.12,885.40 843.23,865.30 862.33,885.40 843.23,905.50" fill="#000" stroke="none"/>
<polygon points="830.33,885.40 843.23,871.83 856.12,885.40 843.23,898.97" fill="#fff" stroke="none"/>
<polygon points="888.67,849.50 907.77,829.40 926.88,849.50 907.77,869.60" fill="#000" stroke="none"/>
<polygon points="894.88,849.50 907.77,835.93 920.67,849.50 907.77,863.07" fill="#fff" stroke="none"/>
<polygon points="953.23,790.70 972.33,770.60 991.43,790.70 972.33,810.80" fill="#000" stroke="none"/>
<polygon points="959.43,790.70 972.33,777.13 985.22,790.70 972.33,804.27" fill="#fff" stroke="none"/>
<line x1="908.98" y1="781.50" x2="908.98" y2="736.10" stroke-width="4.3"/>
<line x1="899.48" y1="736.10" x2="918.48" y2="736.10" stroke-width="4.3"/>
<line x1="973.53" y1="700.30" x2="973.53" y2="629.60" stroke-width="4.3"/>
<line x1="964.03" y1="629.60" x2="983.03" y2="629.60" stroke-width="4.3"/>
<polyline points="649.57,947.00 714.12,932.70 778.67,901.90 843.23,856.90 907.77,781.50 972.33,700.30" fill="none" stroke-width="4.6" stroke-linejoin="miter"/>
<rect x="635.97" y="933.30" width="27.20" height="27.40" fill="#fff" stroke-width="4.3"/>
<rect x="700.52" y="919.00" width="27.20" height="27.40" fill="#fff" stroke-width="4.3"/>
<rect x="765.07" y="888.20" width="27.20" height="27.40" fill="#fff" stroke-width="4.3"/>
<rect x="829.62" y="843.20" width="27.20" height="27.40" fill="#fff" stroke-width="4.3"/>
<rect x="894.17" y="767.80" width="27.20" height="27.40" fill="#fff" stroke-width="4.3"/>
<rect x="958.73" y="686.60" width="27.20" height="27.40" fill="#fff" stroke-width="4.3"/>
<polyline points="649.57,948.20 714.12,944.40 778.67,933.90 843.23,921.80 907.77,921.00 972.33,908.10" fill="none" stroke-width="4.6" stroke-linejoin="miter"/>
<polygon points="631.07,966.70 649.57,929.70 668.07,966.70" fill="#000" stroke="none"/>
<polygon points="695.62,962.90 714.12,925.90 732.62,962.90" fill="#000" stroke="none"/>
<polygon points="760.17,952.40 778.67,915.40 797.17,952.40" fill="#000" stroke="none"/>
<polygon points="824.73,940.30 843.23,903.30 861.73,940.30" fill="#000" stroke="none"/>
<polygon points="889.27,939.50 907.77,902.50 926.27,939.50" fill="#000" stroke="none"/>
<polygon points="953.83,926.60 972.33,889.60 990.83,926.60" fill="#000" stroke="none"/>
<polyline points="649.57,946.00 714.12,942.00 778.67,932.80 843.23,925.10 907.77,920.60 972.33,919.30" fill="none" stroke-width="4.6" stroke-linejoin="miter"/>
<ellipse cx="649.57" cy="946.00" rx="14.35" ry="14.55" fill="#fff" stroke-width="4.3"/>
<ellipse cx="714.12" cy="942.00" rx="14.35" ry="14.55" fill="#fff" stroke-width="4.3"/>
<ellipse cx="778.67" cy="932.80" rx="14.35" ry="14.55" fill="#fff" stroke-width="4.3"/>
<ellipse cx="843.23" cy="925.10" rx="14.35" ry="14.55" fill="#fff" stroke-width="4.3"/>
<ellipse cx="907.77" cy="920.60" rx="14.35" ry="14.55" fill="#fff" stroke-width="4.3"/>
<ellipse cx="972.33" cy="919.30" rx="14.35" ry="14.55" fill="#fff" stroke-width="4.3"/>
<path d="M994.8,689.5 C1002,689.5 1007.2,692.5 1007.2,700 L1007.2,727 C1007.2,733 1012,736.1 1021.9,736.1 C1012,736.1 1007.2,739 1007.2,745 L1007.2,772 C1007.2,779 1002,782.9 994.7,782.9" fill="none" stroke-width="4.3"/>
<path d="M1002,782 C1009,782.5 1012.6,786 1012.6,794 L1012.6,834 C1012.6,840 1015,844 1021.1,844 C1015,844 1012.6,848 1012.6,854 L1012.6,893 C1012.6,901 1010,905 1004.7,905" fill="none" stroke-width="4.3"/>
<line x1="1039.30" y1="738.70" x2="1039.30" y2="729.90" stroke-width="4.2"/>
<line x1="1039.30" y1="738.70" x2="1047.67" y2="735.98" stroke-width="4.2"/>
<line x1="1039.30" y1="738.70" x2="1030.93" y2="735.98" stroke-width="4.2"/>
<line x1="1039.30" y1="738.70" x2="1045.06" y2="746.63" stroke-width="4.2"/>
<line x1="1039.30" y1="738.70" x2="1033.54" y2="746.63" stroke-width="4.2"/>
<line x1="1038.90" y1="829.70" x2="1030.10" y2="829.70" stroke-width="4.2"/>
<line x1="1038.90" y1="829.70" x2="1036.18" y2="821.33" stroke-width="4.2"/>
<line x1="1038.90" y1="829.70" x2="1036.18" y2="838.07" stroke-width="4.2"/>
<line x1="1038.90" y1="829.70" x2="1046.83" y2="823.94" stroke-width="4.2"/>
<line x1="1038.90" y1="829.70" x2="1046.83" y2="835.46" stroke-width="4.2"/>
<line x1="1038.90" y1="850.30" x2="1030.10" y2="850.30" stroke-width="4.2"/>
<line x1="1038.90" y1="850.30" x2="1036.18" y2="841.93" stroke-width="4.2"/>
<line x1="1038.90" y1="850.30" x2="1036.18" y2="858.67" stroke-width="4.2"/>
<line x1="1038.90" y1="850.30" x2="1046.83" y2="844.54" stroke-width="4.2"/>
<line x1="1038.90" y1="850.30" x2="1046.83" y2="856.06" stroke-width="4.2"/>
</svg>
</body></html>
